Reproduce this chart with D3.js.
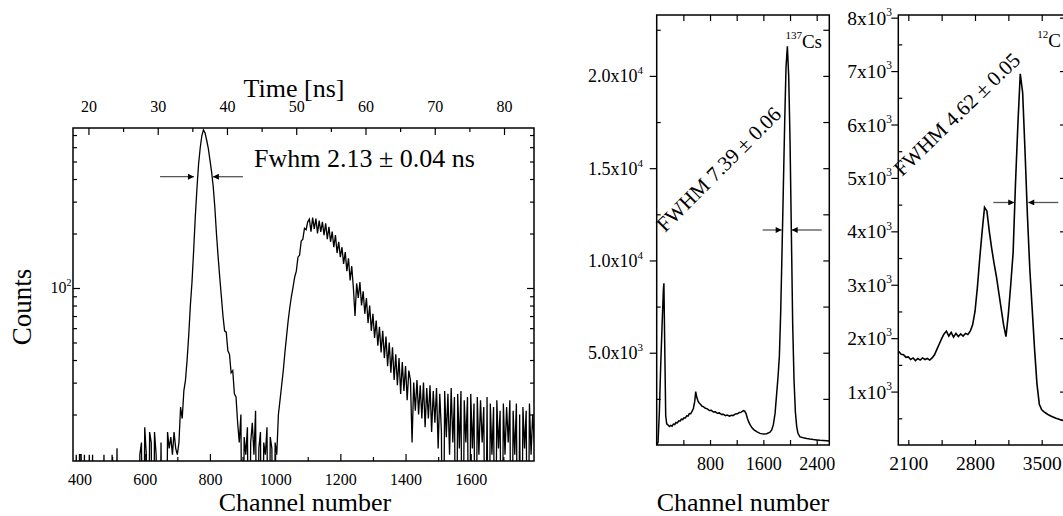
<!DOCTYPE html>
<html>
<head>
<meta charset="utf-8">
<script src="https://cdnjs.cloudflare.com/ajax/libs/d3/7.8.5/d3.min.js"></script>
<style>
  body { margin: 0; background: #fff; }
  svg text { font-family: "Liberation Serif", "Times New Roman", serif; fill: #000; }
</style>
</head>
<body>
<div id="chart"></div>
<script>
// ---------- data ----------
// time spectrum (left panel), one value every 5 channels from channel 380
var tofFirst = 380, tofStep = 5;
var tofCounts = [
  0,0,12,0,12,12,0,12,0,0,
  12,0,12,0,0,0,0,0,0,12,
  0,0,0,0,12,0,0,13,0,0,
  0,0,0,0,0,0,0,0,0,0,
  0,12,14,0,17,12,0,16,14,0,
  16,12,0,0,14,0,0,0,16,13,
  15,12,16,13,12,
  14,22,19,27,31,40,55,80,108,160,
  245,350,480,590,690,747,720,655,590,510,
  440,365,280,200,150,115,90,70,58,57,
  45,43,34,35,26,25,18,14,20,0,
  15,12,17,0,14,18,12,21,0,13,
  16,0,14,12,17,0,15,13,0,14,
  12,
  20,24,29,35,44,54,66,78,90,101,
  115,124,148,152,182,186,214,210,232,
  240,205,245,212,242,200,236,204,232,196,
  228,186,218,180,205,168,196,156,180,148,
  168,136,158,124,146,110,132,100,70,106,
  88,108,80,96,72,88,64,80,58,72,
  53,66,48,61,44,58,41,54,37,50,
  34,47,31,43,29,41,26,39,27,37,
  24,35,31,14,30,21,31,20,29,19,
  30,17,28,19,29,16,27,18,28,13,
  26,16,0,27,15,26,12,28,14,25,
  0,26,13,27,0,24,14,25,0,26,
  13,23,0,25,12,24,14,22,0,25,
  0,23,12,22,0,24,13,21,0,23,
  12,22,14,24,0,21,12,23,0,20,
  0,22,13,21,0,23,12,20,14
];
var tofChTicks = [400, 600, 800, 1000, 1200, 1400, 1600];
var tofChMinor = [500, 700, 900, 1100, 1300, 1500, 1700];
var tofNsTicks = [20, 30, 40, 50, 60, 70, 80];
var tofNsMinor = [25, 35, 45, 55, 65, 75];
var tofYMajor = [100];
var tofYMinor = [20, 30, 40, 50, 60, 70, 80, 90, 200, 300, 400, 500, 600, 700];
var tofFwhm = {y: 412, left: [647, 751], right: [901, 809]};

// 137Cs spectrum (middle panel)
var csChannels = [0,20,40,60,80,100,108,120,135,150,
  170,190,210,230,250,270,290,310,330,350,
  370,390,410,430,450,470,490,510,530,550,
  570,585,600,620,640,660,680,700,730,760,
  790,820,850,880,910,940,970,1000,1030,1060,
  1090,1120,1150,1180,1210,1240,1270,1300,1320,1340,
  1360,1380,1400,1430,1460,1500,1550,1600,1650,1700,
  1725,1750,1775,1800,1820,1840,1860,1880,1900,1920,
  1940,1960,1980,2000,2020,2040,2060,2080,2100,2120,
  2150,2200,2250,2300,2350,2400,2450,2500,2550,2585];
var csCounts = [0,150,1800,4300,6400,8400,8760,5500,1600,1150,
  1080,1000,1060,1020,1130,1110,1220,1200,1310,1290,
  1400,1380,1480,1470,1580,1560,1700,1690,1820,1980,
  2350,2890,2600,2380,2260,2190,2100,2080,1990,1960,
  1870,1880,1790,1800,1720,1740,1660,1670,1590,1620,
  1560,1610,1600,1680,1690,1760,1780,1860,1840,1700,
  1450,1250,1100,930,820,720,630,590,610,700,
  820,1100,1700,2800,3700,4800,7200,10500,14000,17500,
  20500,21600,20000,16500,11500,6500,3500,1800,1000,620,
  440,390,350,320,295,275,255,240,228,218];
var csXTicks = [800, 1600, 2400];
var csXMinor = [400, 1200, 2000];
var csYTicks = [5000, 10000, 15000, 20000];
var csYMinor = [2500, 7500, 12500, 17500, 22500];
var csYBase = ["5.0x10", "1.0x10", "1.5x10", "2.0x10"];
var csYExp = ["3", "4", "4", "4"];
var csFwhm = {y: 11650, left: [1590, 1875], right: [2475, 2025]};

// 12C spectrum (right panel), one value every 25 channels from channel 2000
var cFirst = 2000, cStep = 25;
var cCounts = [1750,1700,1690,1640,1650,1600,1630,1580,1620,1590,
  1630,1600,1620,1590,1630,1690,1790,1890,1990,2080,
  2130,2040,2110,2020,2090,2030,2080,2040,2090,2070,
  2130,2250,2500,2950,3500,4000,4450,4380,4000,3680,
  3400,3150,2850,2550,2250,2030,2450,3000,3600,4900,
  6000,6950,6600,5500,4300,3300,2550,1800,1150,760,
  660,620,590,560,540,520,500,485,470,460,
  450];
var cXTicks = [2100, 2800, 3500];
var cXMinor = [2450, 3150];
var cYTicks = [1000, 2000, 3000, 4000, 5000, 6000, 7000, 8000];
var cYMinor = [500, 1500, 2500, 3500, 4500, 5500, 6500, 7500];
var cFwhm = {y: 4540, left: [2992, 3212], right: [3674, 3359]};

// ---------- svg ----------
var W = 1063, H = 516;
var svg = d3.select("#chart").append("svg")
    .attr("width", W)
    .attr("height", H);

var defs = svg.append("defs");
defs.append("marker")
    .attr("id", "head")
    .attr("viewBox", "0 0 10 10")
    .attr("refX", 10).attr("refY", 5)
    .attr("markerWidth", 9).attr("markerHeight", 6)
    .attr("markerUnits", "userSpaceOnUse")
    .attr("orient", "auto")
  .append("path")
    .attr("d", "M0,0L10,5L0,10Z")
    .attr("fill", "#000");

function clip(id, b) {
  defs.append("clipPath").attr("id", id)
    .append("rect")
      .attr("x", b.left).attr("y", b.top)
      .attr("width", b.right - b.left).attr("height", b.bottom - b.top);
}

// draw a set of ticks with an axis generator, no labels
function ticks(g, axis, vals, size) {
  g.call(axis.tickValues(vals).tickSize(size).tickSizeOuter(0).tickFormat(""));
  g.select(".domain").remove();
  g.selectAll("line").attr("stroke-width", 1.2);
  return g;
}

// labelled x axis
function xAxis(g, axis, vals, size, pad, fs) {
  g.call(axis.tickValues(vals).tickSize(size).tickSizeOuter(0).tickPadding(pad).tickFormat(d3.format("d")));
  g.attr("font-size", fs).attr("font-family", null);
  g.select(".domain").remove();
  g.selectAll("line").attr("stroke-width", 1.2);
  return g;
}

function frame(b) {
  svg.append("rect")
      .attr("x", b.left).attr("y", b.top)
      .attr("width", b.right - b.left).attr("height", b.bottom - b.top)
      .attr("fill", "none")
      .attr("stroke", "#000")
      .attr("stroke-width", 1.5);
}

function arrows(xs, ys, f) {
  [f.left, f.right].forEach(function(a) {
    svg.append("line")
        .attr("x1", xs(a[0])).attr("x2", xs(a[1]))
        .attr("y1", ys(f.y)).attr("y2", ys(f.y))
        .attr("stroke", "#555")
        .attr("stroke-width", 1.3)
        .attr("marker-end", "url(#head)");
  });
}

function supText(x, y, base, exp, fs, fsExp) {
  var t = svg.append("text")
      .attr("x", x).attr("y", y)
      .attr("text-anchor", "end")
      .attr("font-size", fs);
  t.append("tspan").text(base);
  t.append("tspan").attr("font-size", fsExp).attr("dy", -fs * 0.45).text(exp);
  return t;
}

// ---------- left panel ----------
var lp = {left: 73, right: 534, top: 128, bottom: 461};
var xch = d3.scaleLinear().domain([380, 1794]).range([lp.left, lp.right]);
var xns = d3.scaleLinear().domain([17.77, 84.33]).range([lp.left, lp.right]);
var ylog = d3.scaleLog().domain([11.07, 765.6]).range([lp.bottom, lp.top]);
clip("clipL", lp);

var tofData = tofCounts.map(function(v, i) { return {ch: tofFirst + i * tofStep, v: v}; });
var tofLine = d3.line()
    .x(function(d) { return xch(d.ch); })
    .y(function(d) { return ylog(Math.max(d.v, 1)); });

svg.append("path")
    .attr("clip-path", "url(#clipL)")
    .attr("d", tofLine(tofData))
    .attr("fill", "none")
    .attr("stroke", "#000")
    .attr("stroke-width", 1.3);

// bottom axis (channels) and top axis (time)
xAxis(svg.append("g").attr("transform", "translate(0," + lp.bottom + ")"), d3.axisBottom(xch), tofChTicks, -7, 13, 16);
ticks(svg.append("g").attr("transform", "translate(0," + lp.bottom + ")"), d3.axisBottom(xch), tofChMinor, -4);
xAxis(svg.append("g").attr("transform", "translate(0," + lp.top + ")"), d3.axisTop(xns), tofNsTicks, -7, 16, 16);
ticks(svg.append("g").attr("transform", "translate(0," + lp.top + ")"), d3.axisTop(xns), tofNsMinor, -4);

// left / right log axes
ticks(svg.append("g").attr("transform", "translate(" + lp.left + ",0)"), d3.axisLeft(ylog), tofYMajor, -7);
ticks(svg.append("g").attr("transform", "translate(" + lp.left + ",0)"), d3.axisLeft(ylog), tofYMinor, -4);
ticks(svg.append("g").attr("transform", "translate(" + lp.right + ",0)"), d3.axisRight(ylog), tofYMajor, -7);
ticks(svg.append("g").attr("transform", "translate(" + lp.right + ",0)"), d3.axisRight(ylog), tofYMinor, -4);
tofYMajor.forEach(function(v) { supText(lp.left - 1.5, ylog(v) + 5.5, "10", "2", 16, 10); });

frame(lp);
arrows(xch, ylog, tofFwhm);

svg.append("text").attr("x", 254).attr("y", 167).attr("font-size", 26)
    .text("Fwhm 2.13 \u00b1 0.04 ns");
svg.append("text").attr("x", 294).attr("y", 97).attr("font-size", 26)
    .attr("text-anchor", "middle").text("Time [ns]");
svg.append("text").attr("x", 305).attr("y", 511).attr("font-size", 26)
    .attr("text-anchor", "middle").text("Channel number");
svg.append("text").attr("transform", "translate(31,307) rotate(-90)").attr("font-size", 27)
    .attr("text-anchor", "middle").text("Counts");

// ---------- middle panel (137Cs) ----------
var mp = {left: 656.7, right: 829.3, top: 15, bottom: 445};
var xcs = d3.scaleLinear().domain([0, 2589]).range([mp.left, mp.right]);
var ycs = d3.scaleLinear().domain([0, 23300]).range([mp.bottom, mp.top]);
clip("clipM", mp);

var csLine = d3.line()
    .x(function(d, i) { return xcs(csChannels[i]); })
    .y(function(d) { return ycs(d); });
svg.append("path")
    .attr("clip-path", "url(#clipM)")
    .attr("d", csLine(csCounts))
    .attr("fill", "none")
    .attr("stroke", "#000")
    .attr("stroke-width", 1.5);

xAxis(svg.append("g").attr("transform", "translate(0," + mp.bottom + ")"), d3.axisBottom(xcs), csXTicks, -5, 12.7, 18);
ticks(svg.append("g").attr("transform", "translate(0," + mp.bottom + ")"), d3.axisBottom(xcs), csXMinor, -5);
ticks(svg.append("g").attr("transform", "translate(0," + mp.top + ")"), d3.axisTop(xcs), csXTicks.concat(csXMinor), -6);
ticks(svg.append("g").attr("transform", "translate(" + mp.left + ",0)"), d3.axisLeft(ycs), csYTicks, 7);
ticks(svg.append("g").attr("transform", "translate(" + mp.left + ",0)"), d3.axisLeft(ycs), csYMinor, -4);
ticks(svg.append("g").attr("transform", "translate(" + mp.right + ",0)"), d3.axisRight(ycs), csYTicks.concat(csYMinor), -6);
csYTicks.forEach(function(v, i) { supText(643, ycs(v) + 6.5, csYBase[i], csYExp[i], 18, 11); });

frame(mp);
arrows(xcs, ycs, csFwhm);

var tcs = svg.append("text").attr("x", 822).attr("y", 48).attr("text-anchor", "end");
tcs.append("tspan").attr("font-size", 11).attr("dy", -9).text("137");
tcs.append("tspan").attr("font-size", 19).attr("dy", 9).text("Cs");
svg.append("text").attr("transform", "translate(665,233) rotate(-45)").attr("font-size", 21)
    .text("FWHM 7.39 \u00b1 0.06");

// ---------- right panel (12C) ----------
var rp = {left: 898.3, right: 1066, top: 15, bottom: 445};
var xc = d3.scaleLinear().domain([1995, 3755]).range([rp.left, rp.right]);
var yc = d3.scaleLinear().domain([0, 8050]).range([rp.bottom, rp.top]);
clip("clipR", rp);

var cLine = d3.line()
    .x(function(d, i) { return xc(cFirst + i * cStep); })
    .y(function(d) { return yc(d); });
svg.append("path")
    .attr("clip-path", "url(#clipR)")
    .attr("d", cLine(cCounts))
    .attr("fill", "none")
    .attr("stroke", "#000")
    .attr("stroke-width", 1.6);

xAxis(svg.append("g").attr("transform", "translate(0," + rp.bottom + ")"), d3.axisBottom(xc), cXTicks, -5, 11.2, 19.5);
ticks(svg.append("g").attr("transform", "translate(0," + rp.bottom + ")"), d3.axisBottom(xc), cXMinor, -5);
ticks(svg.append("g").attr("transform", "translate(0," + rp.top + ")"), d3.axisTop(xc), cXTicks.concat(cXMinor), -6);
ticks(svg.append("g").attr("transform", "translate(" + rp.left + ",0)"), d3.axisLeft(yc), cYTicks, 7);
ticks(svg.append("g").attr("transform", "translate(" + rp.left + ",0)"), d3.axisLeft(yc), cYMinor, -4);
ticks(svg.append("g").attr("transform", "translate(" + rp.right + ",0)"), d3.axisRight(yc), cYTicks, -6);
cYTicks.forEach(function(v) { supText(892, yc(v) + 7, (v / 1000) + "x10", "3", 19.5, 11.5); });

frame(rp);
arrows(xc, yc, cFwhm);

var tc = svg.append("text").attr("x", 1061).attr("y", 47).attr("text-anchor", "end");
tc.append("tspan").attr("font-size", 11).attr("dy", -9).text("12");
tc.append("tspan").attr("font-size", 19).attr("dy", 9).text("C");
svg.append("text").attr("transform", "translate(902,177) rotate(-44)").attr("font-size", 21)
    .text("FWHM 4.62 \u00b1 0.05");

svg.append("text").attr("x", 743).attr("y", 511).attr("font-size", 26)
    .attr("text-anchor", "middle").text("Channel number");
</script>
</body>
</html>
